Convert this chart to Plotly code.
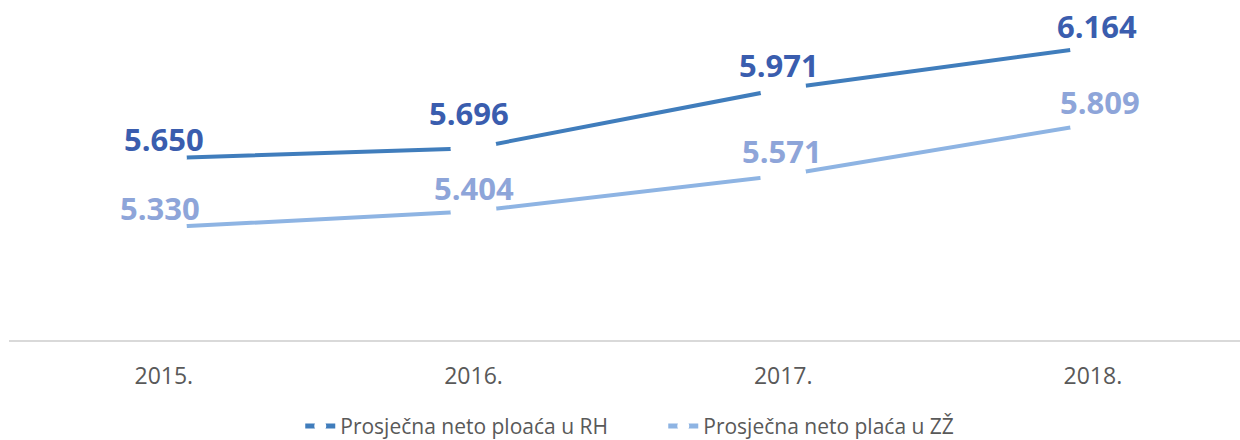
import plotly.graph_objects as go

categories = ["2015.", "2016.", "2017.", "2018."]
rh_values = [5650, 5696, 5971, 6164]
zz_values = [5330, 5404, 5571, 5809]
rh_name = "Prosječna neto ploaća u RH"
zz_name = "Prosječna neto plaća u ZŽ"

# label placement tweaks (pixels), as the labels were nudged in the original
rh_label_dy = [18, 34, 23, 20]
rh_label_dx = [0, -5, -4, 4]
zz_label_dy = [18, 22, 23, 21]
zz_label_dx = [-4, 0, -1, 7]

RH_LINE = "#407DBC"
RH_TEXT = "#3A5DAE"
ZZ_LINE = "#8EB4E3"
ZZ_TEXT = "#8EA5D9"

def fmt(v):
    return f"{v:,}".replace(",", ".")

fig = go.Figure()
for name, vals, lc in [(rh_name, rh_values, RH_LINE), (zz_name, zz_values, ZZ_LINE)]:
    fig.add_trace(go.Scatter(
        x=categories, y=vals, name=name, mode="lines+markers",
        line=dict(color=lc, width=4),
        marker=dict(color="white", size=46, symbol="circle", line=dict(width=0)),
        hoverinfo="skip",
    ))

for vals, tc, dys, dxs in [(rh_values, RH_TEXT, rh_label_dy, rh_label_dx),
                           (zz_values, ZZ_TEXT, zz_label_dy, zz_label_dx)]:
    for i, v in enumerate(vals):
        fig.add_annotation(
            x=i, y=v, xref="x", yref="y", text="<b>" + fmt(v) + "</b>", showarrow=False,
            xanchor="center", yanchor="middle", yshift=dys[i] + 1, xshift=dxs[i],
            font=dict(family="Open Sans", size=31, color=tc),
        )

fig.update_layout(
    width=1240, height=440,
    margin=dict(l=9, r=0, t=10, b=100, autoexpand=False),
    paper_bgcolor="white", plot_bgcolor="white",
    showlegend=True,
    legend=dict(
        orientation="h", x=0.2366, xanchor="left", y=-0.262, yanchor="middle",
        font=dict(family="Open Sans", size=21, color="#595959"),
        itemsizing="constant", entrywidth=318,
    ),
    xaxis=dict(
        type="category", range=[-0.5, 3.475],
        showgrid=False, zeroline=False,
        showline=True, linecolor="#D9D9D9", linewidth=2,
        ticks="", ticklabelstandoff=14,
        tickfont=dict(family="Open Sans", size=23, color="#595959"),
        fixedrange=True,
    ),
    yaxis=dict(
        range=[4809, 6335], visible=False, showgrid=False, zeroline=False,
        fixedrange=True,
    ),
)

fig.write_html("out.html", config={"displayModeBar": False},
               post_script="document.body.style.margin='0';document.body.style.overflow='hidden';")
